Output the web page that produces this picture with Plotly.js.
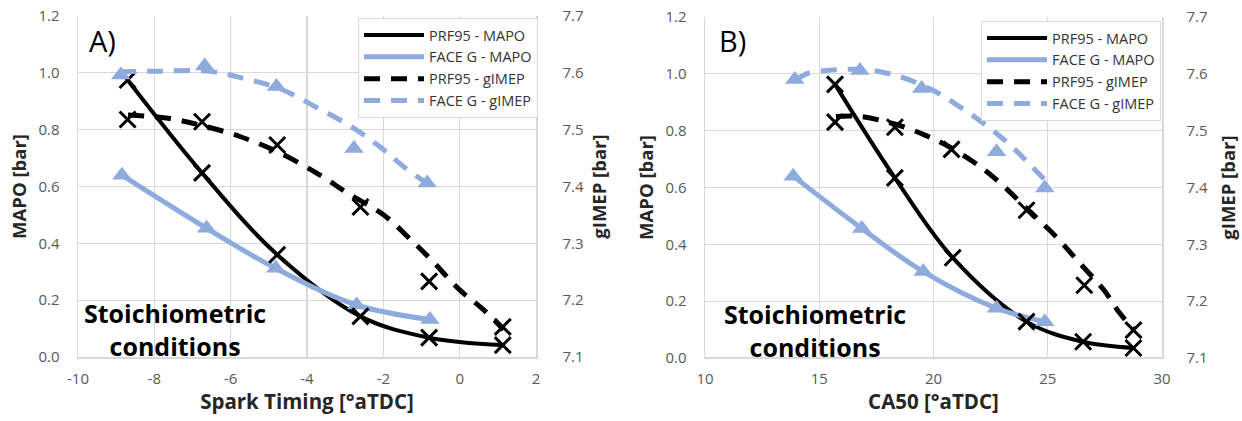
<!DOCTYPE html>
<html><head><meta charset="utf-8">
<script src="https://cdn.plot.ly/plotly-3.0.1.min.js"></script>
<style>
html,body{margin:0;padding:0;background:#fff}
#chart{width:1242px;height:421px}
</style>
</head><body><div id="chart"></div>
<script>
// ---------- Panel A : Spark Timing ----------
const A_prf_x        = [-8.7, -6.75, -4.78, -2.6, -0.8, 1.13];
const A_prf_mapo     = [0.975, 0.648, 0.36, 0.143, 0.068, 0.042];
const A_prf_gimep    = [7.518, 7.514, 7.473, 7.364, 7.233, 7.153];
const A_face_mapo_x  = [-8.85, -6.63, -4.82, -2.7, -0.78];
const A_face_mapo    = [0.64, 0.453, 0.312, 0.183, 0.132];
const A_face_gimep_x = [-8.88, -6.68, -4.8, -2.77, -0.85];
const A_face_gimep   = [7.596, 7.612, 7.576, 7.467, 7.406];
// trend lines (dashed)
const A_prf_gimep_line_x  = [-8.69, -7.64, -6.8, -5.76, -4.71, -3.66, -2.93, -1.99, -1.26, -0.73, 0, 0.63, 1.15];
const A_prf_gimep_line    = [7.526, 7.52, 7.508, 7.488, 7.459, 7.42, 7.388, 7.35, 7.305, 7.27, 7.218, 7.183, 7.148];
const A_face_gimep_line_x = [-8.9, -7.85, -6.6, -5.65, -4.71, -3.77, -2.83, -2.09, -1.47, -0.73];
const A_face_gimep_line   = [7.602, 7.603, 7.603, 7.59, 7.572, 7.54, 7.505, 7.47, 7.435, 7.4];

// ---------- Panel B : CA50 ----------
const B_prf_x        = [15.69, 18.31, 20.84, 24.07, 26.55, 28.75];
const B_prf_mapo     = [0.963, 0.634, 0.353, 0.128, 0.057, 0.035];
const B_prf_gimep_x  = [15.69, 18.31, 20.79, 24.07, 26.6, 28.75];
const B_prf_gimep    = [7.515, 7.506, 7.467, 7.36, 7.228, 7.149];
const B_face_x       = [13.86, 16.86, 19.55, 22.76, 24.87];
const B_face_mapo    = [0.64, 0.456, 0.304, 0.175, 0.128];
const B_face_gimep_x = [13.93, 16.78, 19.48, 22.76, 24.87];
const B_face_gimep   = [7.59, 7.606, 7.574, 7.463, 7.399];
const B_prf_gimep_line_x  = [15.73, 16.78, 18.18, 19.58, 20.8, 22.03, 23.08, 24.13, 25.35, 26.4, 27.45, 28.15, 28.77];
const B_prf_gimep_line    = [7.525, 7.525, 7.513, 7.493, 7.469, 7.437, 7.402, 7.361, 7.314, 7.267, 7.22, 7.179, 7.15];
const B_face_gimep_line_x = [13.98, 14.5, 15.73, 17.13, 18.53, 19.93, 21.15, 22.38, 23.43, 24.3, 25.18];
const B_face_gimep_line   = [7.589, 7.601, 7.607, 7.607, 7.595, 7.572, 7.542, 7.507, 7.472, 7.437, 7.401];

// ticks
const A_xticks = [-10, -8, -6, -4, -2, 0, 2];
const A_xtext  = ['-10', '-8', '-6', '-4', '-2', '0', '2'];
const B_xticks = [10, 15, 20, 25, 30];
const mapoTicks = [0, 0.2, 0.4, 0.6, 0.8, 1.0, 1.2];
const gimepTicks = [7.1, 7.2, 7.3, 7.4, 7.5, 7.6, 7.7];
const legendNames = ['PRF95 - MAPO', 'FACE G - MAPO', 'PRF95 - gIMEP', 'FACE G - gIMEP'];

const BLACK = '#000000', BLUE = '#8faadc';
const FONT = '"Open Sans", "Noto Sans", sans-serif';
const W = 1242, H = 421;
const px = v => v / W, py = v => 1 - v / H;

function panel(xa, ya, ya2, leg, d) {
  const t = [];
  t.push({x: d.prfX, y: d.prfMapo, xaxis: xa, yaxis: ya, mode: 'lines', name: legendNames[0], legend: leg,
          line: {color: BLACK, width: 4, shape: 'spline'}});
  t.push({x: d.faceMX, y: d.faceMapo, xaxis: xa, yaxis: ya, mode: 'lines', name: legendNames[1], legend: leg,
          line: {color: BLUE, width: 5, shape: 'spline'}});
  t.push({x: d.prfGLX, y: d.prfGL, xaxis: xa, yaxis: ya2, mode: 'lines', name: legendNames[2], legend: leg,
          line: {color: BLACK, width: 5, dash: '16px,11px', shape: 'spline'}});
  t.push({x: d.faceGLX, y: d.faceGL, xaxis: xa, yaxis: ya2, mode: 'lines', name: legendNames[3], legend: leg,
          line: {color: BLUE, width: 5, dash: '16px,11px', shape: 'spline'}});
  const tri = {symbol: 'triangle-up', size: 17, color: BLUE};
  const cross = {symbol: 'x-thin-open', size: 16, color: BLACK, line: {color: BLACK, width: 3}};
  t.push({x: d.faceMX, y: d.faceMapo, xaxis: xa, yaxis: ya, mode: 'markers', showlegend: false, marker: tri, hoverinfo: 'skip'});
  t.push({x: d.faceGX, y: d.faceG, xaxis: xa, yaxis: ya2, mode: 'markers', showlegend: false, marker: tri, hoverinfo: 'skip'});
  t.push({x: d.prfX, y: d.prfMapo, xaxis: xa, yaxis: ya, mode: 'markers', showlegend: false, marker: cross, hoverinfo: 'skip'});
  t.push({x: d.prfGX, y: d.prfG, xaxis: xa, yaxis: ya2, mode: 'markers', showlegend: false, marker: cross, hoverinfo: 'skip'});
  return t;
}

const data = [].concat(
  panel('x', 'y', 'y2', 'legend', {
    prfX: A_prf_x, prfMapo: A_prf_mapo, prfGX: A_prf_x, prfG: A_prf_gimep,
    faceMX: A_face_mapo_x, faceMapo: A_face_mapo, faceGX: A_face_gimep_x, faceG: A_face_gimep,
    prfGLX: A_prf_gimep_line_x, prfGL: A_prf_gimep_line, faceGLX: A_face_gimep_line_x, faceGL: A_face_gimep_line}),
  panel('x2', 'y3', 'y4', 'legend2', {
    prfX: B_prf_x, prfMapo: B_prf_mapo, prfGX: B_prf_gimep_x, prfG: B_prf_gimep,
    faceMX: B_face_x, faceMapo: B_face_mapo, faceGX: B_face_gimep_x, faceG: B_face_gimep,
    prfGLX: B_prf_gimep_line_x, prfGL: B_prf_gimep_line, faceGLX: B_face_gimep_line_x, faceGL: B_face_gimep_line})
);

const GRID = '#d9d9d9';
const tickFont = {family: FONT, size: 15, color: '#595959'};
const yTitleFont = {family: FONT, size: 18.5, color: '#262626', weight: 'bold'};
const xTitleFont = {family: FONT, size: 20.5, color: '#262626', weight: 'bold'};

function xAxis(dom, range, tv, tt, title) {
  return {domain: dom, range: range, tickvals: tv, ticktext: tt, showgrid: true, gridcolor: GRID, gridwidth: 1.3,
          zeroline: false, showline: true, linecolor: GRID, linewidth: 1.5, ticks: '', tickfont: tickFont,
          ticklabelstandoff: 7, title: {text: title, font: xTitleFont, standoff: 7}, fixedrange: true};
}
function yLeft(dom, anchor, st) {
  return {domain: dom, anchor: anchor, range: [0, 1.2], tickvals: mapoTicks, tickformat: '.1f', showgrid: true,
          gridcolor: GRID, gridwidth: 1.3, zeroline: false, showline: true, linecolor: GRID, linewidth: 1.5,
          ticks: '', tickfont: tickFont, ticklabelstandoff: st,
          title: {text: 'MAPO [bar]', font: yTitleFont, standoff: 7}, fixedrange: true};
}
function yRight(over, anchor, st, tst) {
  return {overlaying: over, anchor: anchor, side: 'right', range: [7.1, 7.7], tickvals: gimepTicks, tickformat: '.1f',
          showgrid: false, zeroline: false, showline: true, linecolor: GRID, linewidth: 1.5, ticks: '',
          tickfont: tickFont, ticklabelstandoff: st,
          title: {text: 'gIMEP [bar]', font: yTitleFont, standoff: tst}, fixedrange: true};
}
function legend(xr, yt) {
  return {x: xr, y: yt, xanchor: 'right', yanchor: 'top', bgcolor: '#ffffff', bordercolor: GRID, borderwidth: 1,
          font: {family: FONT, size: 14.5, color: '#333333'}, tracegroupgap: 0, itemwidth: 60};
}

const layout = {
  width: W, height: H, margin: {l: 0, r: 0, t: 0, b: 0}, paper_bgcolor: '#fff', plot_bgcolor: '#fff',
  showlegend: true,
  xaxis: xAxis([px(78), px(536)], [-10, 2], A_xticks, A_xtext, 'Spark Timing [°aTDC]'),
  yaxis: yLeft([py(357), py(16)], 'x', 14),
  yaxis2: yRight('y', 'x', 22, 10),
  xaxis2: xAxis([px(705), px(1162)], [10, 30], B_xticks, B_xticks.map(String), 'CA50 [°aTDC]'),
  yaxis3: yLeft([py(358), py(17)], 'x2', 14),
  yaxis4: yRight('y3', 'x2', 20, 15),
  legend: legend(px(538), py(18)),
  legend2: legend(px(1161), py(21)),
  annotations: [
    {xref: 'paper', yref: 'paper', x: px(87), y: py(41), xanchor: 'left', yanchor: 'middle', showarrow: false,
     text: 'A)', font: {family: FONT, size: 29, color: '#000'}},
    {xref: 'paper', yref: 'paper', x: px(717), y: py(41), xanchor: 'left', yanchor: 'middle', showarrow: false,
     text: 'B)', font: {family: FONT, size: 29, color: '#000'}},
    {xref: 'paper', yref: 'paper', x: px(175), y: py(329), xanchor: 'center', yanchor: 'middle', showarrow: false,
     text: '<b>Stoichiometric</b><br><b>conditions</b>', align: 'center', font: {family: FONT, size: 25, color: '#000'}},
    {xref: 'paper', yref: 'paper', x: px(815), y: py(330), xanchor: 'center', yanchor: 'middle', showarrow: false,
     text: '<b>Stoichiometric</b><br><b>conditions</b>', align: 'center', font: {family: FONT, size: 25, color: '#000'}}
  ]
};

Plotly.newPlot('chart', data, layout, {staticPlot: true, displayModeBar: false});
</script></body></html>
